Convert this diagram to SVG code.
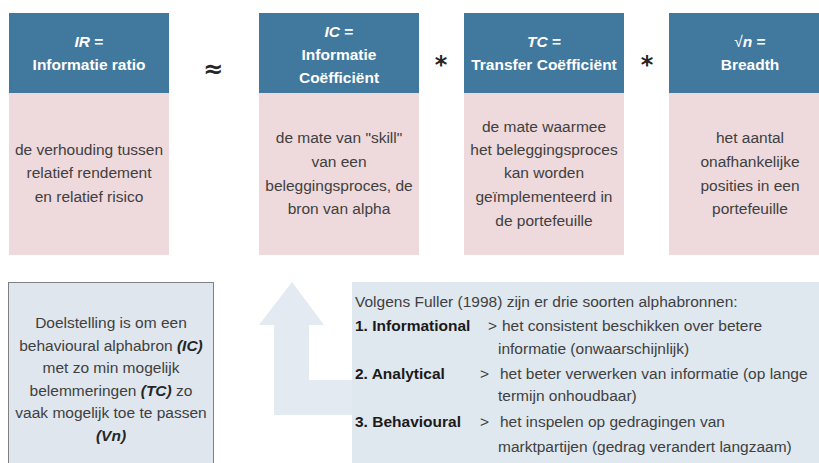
<svg xmlns="http://www.w3.org/2000/svg" width="819" height="463" viewBox="0 0 819 463">
<style>
.hdr{fill:#41789d}
.bod{fill:#eed9dc}
.ht{font-family:"Liberation Sans",Arial,sans-serif;font-size:15.5px;font-weight:bold;fill:#ffffff;text-anchor:middle}
.bt{font-family:"Liberation Sans",Arial,sans-serif;font-size:15.5px;fill:#404040;text-anchor:middle}
.lt{font-family:"Liberation Sans",Arial,sans-serif;font-size:15.5px;fill:#404040}
.op{font-family:"DejaVu Sans",sans-serif;font-size:24px;font-weight:bold;fill:#262626;text-anchor:middle}
.bi{font-weight:bold;font-style:italic;fill:#262626}
.b{font-weight:bold;fill:#1a1a1a}
</style>
<rect width="819" height="463" fill="#ffffff"/>
<g id="ir">
<rect class="hdr" x="9" y="13" width="160" height="80"/>
<rect class="bod" x="9" y="93" width="160" height="162"/>
<text class="ht" x="89" y="47"><tspan font-style="italic">IR</tspan> =</text>
<text class="ht" x="89" y="70">Informatie ratio</text>
<text class="bt" x="89" y="155">de verhouding tussen</text>
<text class="bt" x="89" y="178">relatief rendement</text>
<text class="bt" x="89" y="202">en relatief risico</text>
</g>
<g id="approx"><text class="op" x="213" y="77">≈</text></g>
<g id="ic">
<rect class="hdr" x="259" y="13" width="160" height="80"/>
<rect class="bod" x="259" y="93" width="160" height="162"/>
<text class="ht" x="339" y="37"><tspan font-style="italic">IC</tspan> =</text>
<text class="ht" x="339" y="60">Informatie</text>
<text class="ht" x="339" y="83">Coëfficiënt</text>
<text class="bt" x="339" y="143">de mate van "skill"</text>
<text class="bt" x="339" y="167">van een</text>
<text class="bt" x="339" y="191">beleggingsproces, de</text>
<text class="bt" x="339" y="214">bron van alpha</text>
</g>
<g id="mul1"><text class="op" x="441" y="73">*</text></g>
<g id="tc">
<rect class="hdr" x="464" y="13" width="160" height="80"/>
<rect class="bod" x="464" y="93" width="160" height="162"/>
<text class="ht" x="544" y="47"><tspan font-style="italic">TC</tspan> =</text>
<text class="ht" x="544" y="70">Transfer Coëfficiënt</text>
<text class="bt" x="544" y="132">de mate waarmee</text>
<text class="bt" x="544" y="155">het beleggingsproces</text>
<text class="bt" x="544" y="178">kan worden</text>
<text class="bt" x="544" y="202">geïmplementeerd in</text>
<text class="bt" x="544" y="226">de portefeuille</text>
</g>
<g id="mul2"><text class="op" x="647" y="73">*</text></g>
<g id="breadth">
<rect class="hdr" x="669" y="13" width="162" height="80"/>
<rect class="bod" x="669" y="93" width="162" height="162"/>
<text class="ht" x="750" y="47"><tspan font-weight="normal">√</tspan><tspan font-style="italic">n</tspan> =</text>
<text class="ht" x="750" y="70">Breadth</text>
<text class="bt" x="750" y="143">het aantal</text>
<text class="bt" x="750" y="167">onafhankelijke</text>
<text class="bt" x="750" y="191">posities in een</text>
<text class="bt" x="750" y="214">portefeuille</text>
</g>
<g id="connectors">
<path d="M292 282 L324 325 L309 325 L309 380 L360 380 L360 415 L274 415 L274 325 L259 325 Z" fill="#e3eaf1"/>
</g>
<g id="goal">
<rect x="8.5" y="282.5" width="205" height="190" fill="#dfe6ee" stroke="#808080" stroke-width="1"/>
<text class="bt" x="111" y="328">Doelstelling is om een</text>
<text class="bt" x="111" y="351">behavioural alphabron <tspan class="bi">(IC)</tspan></text>
<text class="bt" x="111" y="373">met zo min mogelijk</text>
<text class="bt" x="111" y="396">belemmeringen <tspan class="bi">(TC)</tspan>  zo</text>
<text class="bt" x="111" y="418">vaak mogelijk toe te passen</text>
<text class="bt" x="111" y="441"><tspan class="bi">(Vn)</tspan></text>
</g>
<g id="fuller">
<rect x="352" y="282" width="480" height="190" fill="#dfe7ef"/>
<text class="lt" x="355" y="307">Volgens Fuller (1998) zijn er drie soorten alphabronnen:</text>
<text class="lt" x="355" y="331"><tspan class="b">1. Informational</tspan></text>
<text class="lt" x="488" y="331">&gt;</text>
<text class="lt" x="502" y="331">het consistent beschikken over betere</text>
<text class="lt" x="498" y="354">informatie (onwaarschijnlijk)</text>
<text class="lt" x="355" y="379"><tspan class="b">2. Analytical</tspan></text>
<text class="lt" x="480" y="379">&gt;</text>
<text class="lt" x="500" y="379">het beter verwerken van informatie (op lange</text>
<text class="lt" x="498" y="401">termijn onhoudbaar)</text>
<text class="lt" x="355" y="427"><tspan class="b">3. Behavioural</tspan></text>
<text class="lt" x="480" y="427">&gt;</text>
<text class="lt" x="500" y="427">het inspelen op gedragingen van</text>
<text class="lt" x="498" y="452">marktpartijen (gedrag verandert langzaam)</text>
</g>
</svg>
